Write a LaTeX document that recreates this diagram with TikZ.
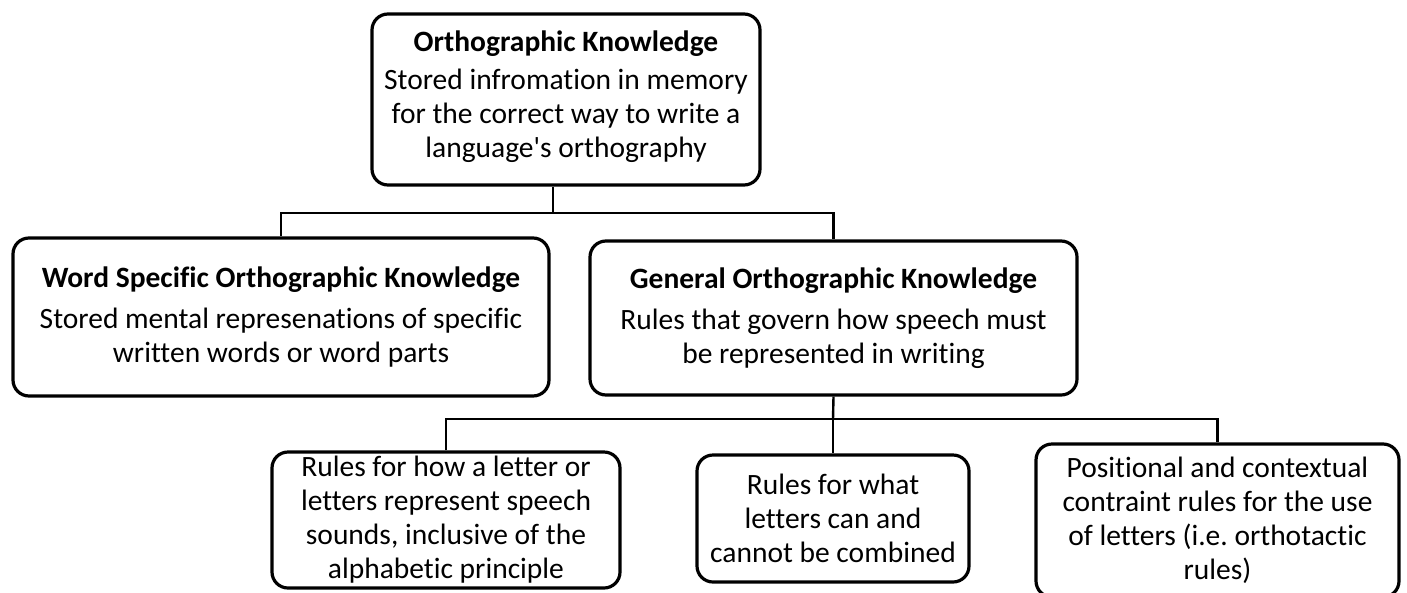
\documentclass[tikz,border=0pt]{standalone}
\usepackage{fontspec}
\setmainfont{Carlito}[Ligatures=NoCommon]
\frenchspacing
\begin{document}
\begin{tikzpicture}[x=1pt,y=-1pt,
  box/.style={draw, line width=3.2pt, rounded corners=16pt, align=center,
    inner sep=0pt, font=\fontsize{29.5}{34}\selectfont},
  link/.style={line width=2.4pt}]
\useasboundingbox (0,0) rectangle (1407,592);

% top level concept
\node[box, minimum width=388pt, minimum height=171pt] (ok) at (566,99.5)
  {\textbf{Orthographic Knowledge}\\[4pt]
   Stored infromation in memory\\
   for the correct way to write a\\
   language\textquotesingle s orthography\\[-24pt]};

% second level
\node[box, minimum width=536pt, minimum height=158pt] (ws) at (281,317)
  {\textbf{Word Specific Orthographic Knowledge}\\[7pt]
   Stored mental represenations of specific\\
   written words or word parts};
\node[box, minimum width=487pt, minimum height=154pt] (gk) at (833.5,318)
  {\textbf{General Orthographic Knowledge}\\[7pt]
   Rules that govern how speech must\\
   be represented in writing};

% third level
\node[box, minimum width=348pt, minimum height=136pt] (r1) at (446,520)
  {Rules for how a letter or\\
   letters represent speech\\
   sounds, inclusive of the\\
   alphabetic principle};
\node[box, minimum width=272pt, minimum height=127pt] (r2) at (833,518.5)
  {Rules for what\\
   letters can and\\
   cannot be combined};
\node[box, minimum width=363pt, minimum height=153pt] (r3) at (1217.5,520.5)
  {Positional and contextual\\
   contraint rules for the use\\
   of letters (i.e.\ orthotactic\\
   rules)};

% tree connectors
\coordinate (j1) at (553,213);
\coordinate (j2) at (833,419);
\draw[link] (ok.south -| j1) -- (j1);
\draw[link] (ws.north) |- (j1) -| (gk.north);
\draw[link] (gk.south) -- (j2);
\draw[link] (r1.north) |- (j2) -| (r3.north);
\draw[link] (j2) -- (r2.north);
\end{tikzpicture}
\end{document}
